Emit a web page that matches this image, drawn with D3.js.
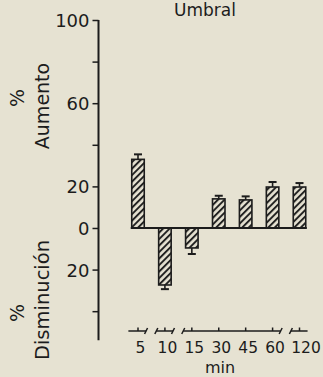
<!DOCTYPE html>
<html><head><meta charset="utf-8">
<script src="https://cdn.jsdelivr.net/npm/d3@7"></script>
<style>
html,body{margin:0;padding:0;background:#e6e2d2;}
svg{display:block;}
text{font-family:"DejaVu Sans",sans-serif;fill:#1c1c1c;}
</style></head>
<body>
<svg id="chart" width="323" height="377"></svg>
<script>
const categories = ["5","10","15","30","45","60","120"];
const values = [33, -27.4, -9.6, 14, 13.5, 19.7, 19.7];
const errors = [2.4, 2.0, 2.9, 1.5, 1.7, 2.4, 1.9];
const yTicksMajor = [100, 60, 20, 0, -20];
const yTickLabels = ["100", "60", "20", "0", "20"];
const yTicksMinor = [80, 40, -40];
const title = "Umbral";
const xTitle = "min";

const ink = "#1c1c1c";
const svg = d3.select("#chart");

const y = d3.scaleLinear().domain([-54, 100]).range([340.3, 20]);
const x = d3.scalePoint().domain(categories).range([138, 299.5]);
const barW = 12.5;
const axisX = 98.5;

// hatch pattern
const defs = svg.append("defs");
const pat = defs.append("pattern").attr("id","hatch")
  .attr("patternUnits","userSpaceOnUse").attr("width",4.6).attr("height",4.6)
  .attr("patternTransform","rotate(45)");
pat.append("rect").attr("width",4.6).attr("height",4.6).attr("fill","#e6e2d2");
pat.append("line").attr("x1",1).attr("y1",0).attr("x2",1).attr("y2",4.6)
  .attr("stroke",ink).attr("stroke-width",1.9);

// y axis
const yAxis = d3.axisLeft(y).tickValues(yTicksMajor.concat(yTicksMinor))
  .tickSize(6).tickFormat(d => { const i = yTicksMajor.indexOf(d); return i >= 0 ? yTickLabels[i] : ""; });
const gy = svg.append("g").attr("transform", `translate(${axisX},0)`).call(yAxis);
gy.select(".domain").attr("d", `M0,${y(100)}V${y(-54)}`).attr("stroke",ink).attr("stroke-width",2);
gy.selectAll(".tick line").attr("stroke",ink).attr("stroke-width",1.5);
gy.selectAll(".tick text").attr("font-size",18).attr("x",-9).attr("dy","0.36em")
  .style("font-family","DejaVu Sans, sans-serif").attr("fill",ink);

// bars
svg.append("g").selectAll("rect").data(values).join("rect")
  .attr("x",(d,i)=>x(categories[i]) - barW/2)
  .attr("y",d=>y(Math.max(0,d)))
  .attr("width",barW)
  .attr("height",d=>Math.abs(y(d)-y(0)))
  .attr("fill","url(#hatch)").attr("stroke",ink).attr("stroke-width",1.6);

// error bars
const eg = svg.append("g").attr("stroke",ink).attr("stroke-width",1.6);
values.forEach((v,i)=>{
  const cx = x(categories[i]);
  const e = v >= 0 ? v + errors[i] : v - errors[i];
  eg.append("line").attr("x1",cx).attr("x2",cx).attr("y1",y(v)).attr("y2",y(e));
  eg.append("line").attr("x1",cx-4).attr("x2",cx+4).attr("y1",y(e)).attr("y2",y(e)).attr("stroke-width",2);
});

// zero line
svg.append("line").attr("x1",x(categories[0])-barW/2-1).attr("x2",x(categories[6])+barW/2+1)
  .attr("y1",y(0)).attr("y2",y(0)).attr("stroke",ink).attr("stroke-width",2.2);

// x axis with breaks
const axY = 331;
const step = x.step();
const segs = [[0,0],[1,1],[2,5],[6,6]];
const xg = svg.append("g").attr("stroke",ink).attr("stroke-width",1.5).attr("fill","none");
segs.forEach(([a,b],k)=>{
  const x0 = x(categories[a]) - step*0.32 + (k===0? -1:0);
  const x1 = x(categories[b]) + step*0.3;
  xg.append("line").attr("x1",x0).attr("x2",x1).attr("y1",axY).attr("y2",axY);
  if (k < segs.length-1) {
    xg.append("line").attr("x1",x1-1.5).attr("x2",x1+1.5).attr("y1",axY+3).attr("y2",axY-3);
  }
  if (k > 0) {
    xg.append("line").attr("x1",x0-1.5).attr("x2",x0+1.5).attr("y1",axY+3).attr("y2",axY-3);
  }
});
categories.forEach(c=>{
  xg.append("line").attr("x1",x(c)).attr("x2",x(c)).attr("y1",axY).attr("y2",axY-3.5);
});

// x tick labels
svg.append("g").selectAll("text").data(categories).join("text")
  .attr("x",(d,i)=>x(d) + 2.5 + (i===6?4:0)).attr("y",353)
  .attr("text-anchor","middle").attr("font-size",15.5).text(d=>d);

svg.append("text").attr("x",220).attr("y",373).attr("text-anchor","middle")
  .attr("font-size",16).text(xTitle);

// title
svg.append("text").attr("x",205).attr("y",16).attr("text-anchor","middle")
  .attr("font-size",17).text(title);

// y labels
function vlabel(txt, bx, cy, fs){
  svg.append("text").attr("transform",`translate(${bx},${cy}) rotate(-90)`)
    .attr("text-anchor","middle").attr("font-size",fs).text(txt);
}
vlabel("%", 24, 98, 19);
vlabel("Aumento", 49, 106, 19);
vlabel("%", 24, 313, 19);
vlabel("Disminución", 49, 300, 19.5);
</script>
</body></html>
